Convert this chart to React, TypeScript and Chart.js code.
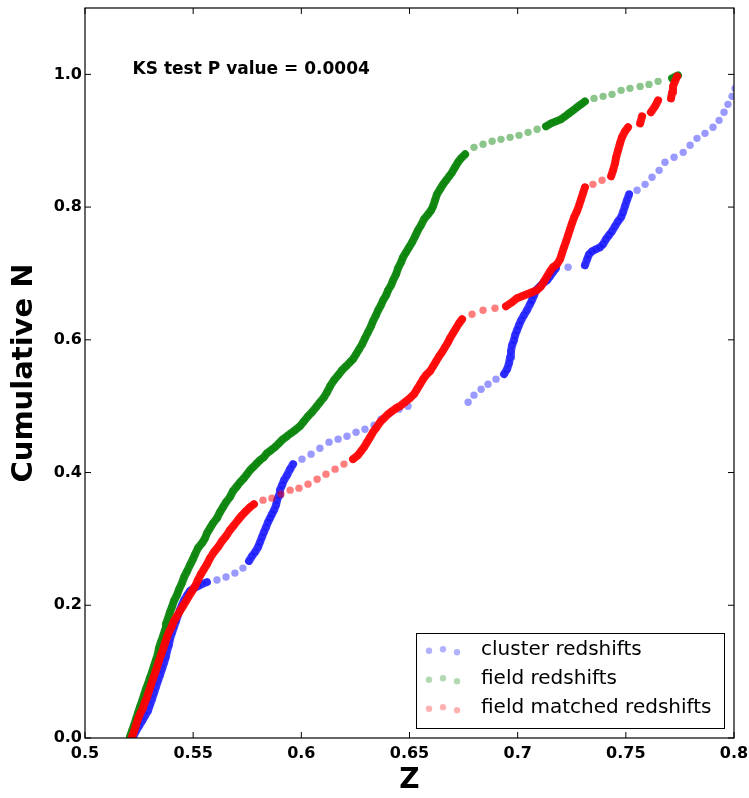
import React, { useEffect, useRef } from 'react';
import { Chart, registerables } from 'chart.js';

Chart.register(...registerables);

// ---- data ----
const seriesLabels = ['cluster redshifts', 'field redshifts', 'field matched redshifts'];

const clusterZ = [
  0.5222, 0.5236, 0.5250, 0.5264, 0.5277, 0.5291, 0.5300, 0.5310, 0.5319, 0.5328,
  0.5337, 0.5347, 0.5356, 0.5365, 0.5374, 0.5379, 0.5388, 0.5393, 0.5402, 0.5411,
  0.5421, 0.5430, 0.5439, 0.5448, 0.5458, 0.5472, 0.5485, 0.5504, 0.5522, 0.5541, 0.5564,
  0.5610, 0.5652, 0.5693, 0.5730,
  0.5758, 0.5772, 0.5786, 0.5800, 0.5809, 0.5818, 0.5827, 0.5837, 0.5846, 0.5855,
  0.5864, 0.5874, 0.5883, 0.5888, 0.5897, 0.5901, 0.5911, 0.5920, 0.5934, 0.5948, 0.5962,
  0.6003, 0.6045, 0.6086, 0.6128, 0.6170, 0.6211, 0.6253, 0.6294, 0.6336, 0.6368, 0.6410, 0.6452, 0.6493,
  0.6771, 0.6798, 0.6831, 0.6863, 0.6900, 0.6937,
  0.6951, 0.6960, 0.6965, 0.6969, 0.6974, 0.6983, 0.6988, 0.6997, 0.7006, 0.7016, 0.7029,
  0.7043, 0.7057, 0.7066, 0.7076, 0.7085, 0.7103, 0.7117, 0.7136, 0.7150, 0.7163, 0.7177,
  0.7233,
  0.7311, 0.7321, 0.7330, 0.7344, 0.7362, 0.7381, 0.7395, 0.7408, 0.7422, 0.7436, 0.7450,
  0.7464, 0.7478, 0.7487, 0.7496, 0.7505, 0.7515,
  0.7552, 0.7589, 0.7621, 0.7654, 0.7681, 0.7723, 0.7765, 0.7797, 0.7829, 0.7866, 0.7903,
  0.7931, 0.7954, 0.7972, 0.7991, 0.8005, 0.8023,
];
const clusterN = [
  0.0015, 0.0105, 0.0181, 0.0256, 0.0331, 0.0407, 0.0497, 0.0587, 0.0678, 0.0768,
  0.0858, 0.0949, 0.1039, 0.1130, 0.1220, 0.1310, 0.1401, 0.1491, 0.1581, 0.1672,
  0.1762, 0.1852, 0.1928, 0.2003, 0.2078, 0.2154, 0.2214, 0.2259, 0.2289, 0.2319, 0.2349,
  0.2380, 0.2425, 0.2485, 0.2560,
  0.2666, 0.2741, 0.2801, 0.2877, 0.2952, 0.3027, 0.3102, 0.3178, 0.3253, 0.3313,
  0.3373, 0.3434, 0.3509, 0.3584, 0.3660, 0.3735, 0.3810, 0.3886, 0.3961, 0.4051, 0.4127,
  0.4202, 0.4277, 0.4367, 0.4458, 0.4503, 0.4548, 0.4608, 0.4653, 0.4714, 0.4804, 0.4895, 0.4955, 0.5000,
  0.5060, 0.5166, 0.5256, 0.5331, 0.5407, 0.5482,
  0.5557, 0.5648, 0.5738, 0.5828, 0.5918, 0.5994, 0.6069, 0.6144, 0.6220, 0.6295, 0.6370,
  0.6446, 0.6536, 0.6596, 0.6672, 0.6747, 0.6807, 0.6852, 0.6898, 0.6958, 0.7018, 0.7078,
  0.7093,
  0.7123, 0.7214, 0.7289, 0.7334, 0.7364, 0.7394, 0.7440, 0.7515, 0.7575, 0.7635, 0.7711,
  0.7786, 0.7846, 0.7922, 0.8012, 0.8102, 0.8193,
  0.8253, 0.8343, 0.8449, 0.8554, 0.8675, 0.8750, 0.8825, 0.8931, 0.9036, 0.9111, 0.9202,
  0.9307, 0.9428, 0.9548, 0.9669, 0.9789, 0.9910,
];

const fieldZ = [
  0.5208, 0.5217, 0.5227, 0.5236, 0.5245, 0.5254, 0.5264, 0.5273, 0.5282, 0.5291, 0.5300, 0.5310,
  0.5319, 0.5328, 0.5337, 0.5342, 0.5351, 0.5361, 0.5370, 0.5374, 0.5384, 0.5393, 0.5402,
  0.5411, 0.5425, 0.5435, 0.5448, 0.5458, 0.5472, 0.5485, 0.5499, 0.5509, 0.5522, 0.5541, 0.5555, 0.5564,
  0.5578, 0.5592, 0.5610, 0.5624, 0.5638, 0.5652, 0.5670, 0.5684, 0.5703, 0.5717, 0.5735, 0.5749, 0.5763, 0.5777,
  0.5795, 0.5809, 0.5827, 0.5841, 0.5860, 0.5878, 0.5897, 0.5915, 0.5934, 0.5952, 0.5971, 0.5994,
  0.6012, 0.6031, 0.6049, 0.6068, 0.6086, 0.6105, 0.6119, 0.6133, 0.6151, 0.6170, 0.6188, 0.6207, 0.6225, 0.6239,
  0.6253, 0.6267, 0.6281, 0.6294, 0.6308, 0.6322, 0.6331, 0.6345, 0.6355, 0.6368, 0.6378, 0.6392, 0.6401, 0.6415, 0.6424,
  0.6438, 0.6447, 0.6461, 0.6470, 0.6484, 0.6498, 0.6512, 0.6526, 0.6539, 0.6553, 0.6567, 0.6586, 0.6600, 0.6609,
  0.6618, 0.6627, 0.6641, 0.6655, 0.6669, 0.6683, 0.6697, 0.6710, 0.6724, 0.6738, 0.6757,
  0.6798, 0.6840, 0.6882, 0.6923, 0.6965, 0.7006, 0.7048, 0.7090, 0.7131,
  0.7154, 0.7177, 0.7200, 0.7219, 0.7238, 0.7256, 0.7274, 0.7293, 0.7311,
  0.7353, 0.7395, 0.7436, 0.7478, 0.7519, 0.7566, 0.7607, 0.7649, 0.7714, 0.7741,
];
const fieldN = [
  0.0020, 0.0105, 0.0196, 0.0286, 0.0377, 0.0467, 0.0557, 0.0648, 0.0738, 0.0813, 0.0904, 0.0994,
  0.1084, 0.1175, 0.1265, 0.1355, 0.1446, 0.1536, 0.1627, 0.1717, 0.1807, 0.1898, 0.1973,
  0.2063, 0.2154, 0.2244, 0.2334, 0.2425, 0.2515, 0.2605, 0.2696, 0.2771, 0.2861, 0.2937, 0.3012, 0.3087,
  0.3163, 0.3238, 0.3313, 0.3404, 0.3479, 0.3554, 0.3630, 0.3720, 0.3795, 0.3855, 0.3916, 0.3976, 0.4036, 0.4081,
  0.4142, 0.4187, 0.4232, 0.4292, 0.4337, 0.4382, 0.4443, 0.4503, 0.4548, 0.4593, 0.4638, 0.4699,
  0.4774, 0.4849, 0.4910, 0.4985, 0.5060, 0.5135, 0.5211, 0.5301, 0.5392, 0.5467, 0.5542, 0.5602, 0.5663, 0.5708,
  0.5783, 0.5858, 0.5934, 0.6024, 0.6114, 0.6205, 0.6280, 0.6370, 0.6446, 0.6521, 0.6596, 0.6672, 0.6747, 0.6822, 0.6898,
  0.6988, 0.7078, 0.7169, 0.7244, 0.7319, 0.7395, 0.7470, 0.7560, 0.7651, 0.7726, 0.7816, 0.7892, 0.7952, 0.8012,
  0.8102, 0.8193, 0.8268, 0.8343, 0.8404, 0.8464, 0.8524, 0.8599, 0.8675, 0.8735, 0.8795,
  0.8900, 0.8946, 0.8991, 0.9021, 0.9051, 0.9081, 0.9126, 0.9172, 0.9217,
  0.9262, 0.9292, 0.9322, 0.9367, 0.9413, 0.9458, 0.9503, 0.9548, 0.9593,
  0.9638, 0.9669, 0.9699, 0.9759, 0.9789, 0.9819, 0.9849, 0.9895, 0.9940, 0.9985,
];

const matchedZ = [
  0.5217, 0.5227, 0.5236, 0.5245, 0.5254, 0.5268, 0.5277, 0.5287, 0.5296, 0.5305, 0.5314,
  0.5324, 0.5333, 0.5342, 0.5351, 0.5361, 0.5370, 0.5379, 0.5388, 0.5402, 0.5411, 0.5425,
  0.5439, 0.5453, 0.5467, 0.5481, 0.5495, 0.5509, 0.5522, 0.5536, 0.5550, 0.5564, 0.5578,
  0.5596, 0.5615, 0.5633, 0.5652, 0.5670, 0.5689, 0.5707, 0.5726, 0.5744, 0.5763, 0.5781,
  0.5823, 0.5864, 0.5906, 0.5948, 0.5989, 0.6031, 0.6073, 0.6114, 0.6156, 0.6197, 0.6239,
  0.6262, 0.6276, 0.6290, 0.6304, 0.6318, 0.6331, 0.6345, 0.6364, 0.6382, 0.6401, 0.6419,
  0.6438, 0.6456, 0.6479, 0.6502, 0.6521, 0.6535, 0.6549, 0.6563, 0.6576, 0.6595, 0.6609,
  0.6623, 0.6637, 0.6650, 0.6664, 0.6678, 0.6687, 0.6701, 0.6715, 0.6729, 0.6743,
  0.6789, 0.6840, 0.6895, 0.6946,
  0.6974, 0.6997, 0.7020, 0.7043, 0.7066, 0.7089, 0.7108, 0.7122, 0.7136, 0.7150, 0.7163,
  0.7182, 0.7196, 0.7205, 0.7214, 0.7224, 0.7233, 0.7242, 0.7251, 0.7261, 0.7274, 0.7284,
  0.7293, 0.7302, 0.7311,
  0.7348, 0.7390, 0.7432,
  0.7441, 0.7450, 0.7455, 0.7464, 0.7473, 0.7482, 0.7496, 0.7510,
  0.7566, 0.7575, 0.7616, 0.7635, 0.7649, 0.7709, 0.7714, 0.7718, 0.7727, 0.7737,
];
const matchedN = [
  0.0015, 0.0105, 0.0196, 0.0286, 0.0361, 0.0452, 0.0542, 0.0617, 0.0708, 0.0798, 0.0889,
  0.0979, 0.1069, 0.1160, 0.1250, 0.1340, 0.1431, 0.1521, 0.1596, 0.1687, 0.1762, 0.1837,
  0.1913, 0.1988, 0.2063, 0.2139, 0.2214, 0.2289, 0.2380, 0.2470, 0.2545, 0.2620, 0.2711,
  0.2801, 0.2877, 0.2967, 0.3042, 0.3133, 0.3208, 0.3283, 0.3358, 0.3419, 0.3479, 0.3524,
  0.3584, 0.3614, 0.3675, 0.3735, 0.3765, 0.3825, 0.3900, 0.3976, 0.4051, 0.4127, 0.4202,
  0.4262, 0.4322, 0.4382, 0.4458, 0.4533, 0.4608, 0.4669, 0.4759, 0.4819, 0.4880, 0.4925,
  0.4970, 0.5000, 0.5060, 0.5120, 0.5181, 0.5256, 0.5331, 0.5407, 0.5467, 0.5527, 0.5602,
  0.5678, 0.5753, 0.5813, 0.5888, 0.5964, 0.6024, 0.6099, 0.6175, 0.6250, 0.6310,
  0.6386, 0.6446, 0.6476, 0.6506,
  0.6566, 0.6627, 0.6657, 0.6687, 0.6717, 0.6747, 0.6807, 0.6883, 0.6958, 0.7033, 0.7093,
  0.7139, 0.7214, 0.7304, 0.7394, 0.7485, 0.7575, 0.7666, 0.7756, 0.7846, 0.7937, 0.8027,
  0.8117, 0.8208, 0.8298,
  0.8343, 0.8404, 0.8464,
  0.8554, 0.8660, 0.8750, 0.8855, 0.8961, 0.9051, 0.9141, 0.9202,
  0.9262, 0.9367, 0.9428, 0.9518, 0.9608, 0.9638, 0.9729, 0.9819, 0.9895, 0.9970,
];

const xTicks = [0.5, 0.55, 0.6, 0.65, 0.7, 0.75, 0.8];
const xTickLabels = ['0.5', '0.55', '0.6', '0.65', '0.7', '0.75', '0.8'];
const yTicks = [0.0, 0.2, 0.4, 0.6, 0.8, 1.0];
const yTickLabels = ['0.0', '0.2', '0.4', '0.6', '0.8', '1.0'];

const ksText = 'KS test P value = 0.0004';
const ksAnchorZ = 0.522;
const ksAnchorN = 1.0;

// ---- styles ----
const FONT = '"DejaVu Sans", "Bitstream Vera Sans", sans-serif';
const baseColors = ['0,0,255', '0,128,0', '255,0,0'];
const pointAlpha = [0.4, 0.45, 0.5];
const denseAlpha = [0.72, 0.88, 0.9];
const legendAlpha = 0.3;
const DENSE_PX = 8;

function toPoints(zs: number[], ns: number[]) {
  const n = Math.min(zs.length, ns.length);
  const out: { x: number; y: number }[] = [];
  for (let i = 0; i < n; i++) out.push({ x: zs[i], y: ns[i] });
  return out;
}

const overlayPlugin = {
  id: 'overlay',
  afterDraw(chart: any) {
    const { ctx, chartArea: a, scales } = chart;
    const xs = scales.x;
    const ys = scales.y;
    ctx.save();
    // frame
    ctx.strokeStyle = '#000';
    ctx.lineWidth = 1.2;
    ctx.strokeRect(a.left, a.top, a.right - a.left, a.bottom - a.top);
    // inward ticks on all sides
    ctx.lineWidth = 1;
    ctx.beginPath();
    xTicks.forEach((v) => {
      const px = xs.getPixelForValue(v);
      ctx.moveTo(px, a.bottom);
      ctx.lineTo(px, a.bottom - 6);
      ctx.moveTo(px, a.top);
      ctx.lineTo(px, a.top + 6);
    });
    yTicks.forEach((v) => {
      const py = ys.getPixelForValue(v);
      ctx.moveTo(a.left, py);
      ctx.lineTo(a.left + 6, py);
      ctx.moveTo(a.right, py);
      ctx.lineTo(a.right - 6, py);
    });
    ctx.stroke();

    // KS annotation
    ctx.fillStyle = '#000';
    ctx.font = `bold 17px ${FONT}`;
    ctx.textAlign = 'left';
    ctx.textBaseline = 'alphabetic';
    ctx.fillText(ksText, xs.getPixelForValue(ksAnchorZ), ys.getPixelForValue(ksAnchorN));

    // legend (lower right)
    const boxW = 308;
    const boxH = 95;
    const bx = a.right - 10 - boxW;
    const by = a.bottom - 10 - boxH;
    ctx.fillStyle = '#fff';
    ctx.fillRect(bx, by, boxW, boxH);
    ctx.strokeStyle = '#000';
    ctx.lineWidth = 1;
    ctx.strokeRect(bx + 0.5, by + 0.5, boxW, boxH);
    const dotDx = [13, 27, 41];
    const dotDy = [0.7, -0.7, 2.3];
    ctx.font = `normal 20px ${FONT}`;
    ctx.textBaseline = 'middle';
    seriesLabels.forEach((lab, i) => {
      const cy = by + 17 + i * 29;
      ctx.fillStyle = `rgba(${baseColors[i]},${legendAlpha})`;
      dotDx.forEach((dx, k) => {
        ctx.beginPath();
        ctx.arc(bx + dx, cy + dotDy[k], 3.2, 0, Math.PI * 2);
        ctx.fill();
      });
      ctx.fillStyle = '#000';
      ctx.fillText(lab, bx + 65, cy);
    });
    ctx.restore();
  },
};

export default function App() {
  const ref = useRef<HTMLCanvasElement | null>(null);

  useEffect(() => {
    document.body.style.margin = '0';
    const canvas = ref.current;
    if (!canvas) return;

    const seriesData = [
      toPoints(clusterZ, clusterN),
      toPoints(fieldZ, fieldN),
      toPoints(matchedZ, matchedN),
    ];
    const orders = [3, 2, 1];

    const datasets = seriesData.map((data, i) => ({
      label: seriesLabels[i],
      data,
      order: orders[i],
      showLine: true,
      tension: 0,
      clip: 0,
      borderWidth: 8,
      borderCapStyle: 'round',
      borderJoinStyle: 'round',
      borderColor: `rgba(${baseColors[i]},${denseAlpha[i]})`,
      segment: {
        borderColor: (c: any) =>
          Math.hypot(c.p1.x - c.p0.x, c.p1.y - c.p0.y) < DENSE_PX
            ? `rgba(${baseColors[i]},${denseAlpha[i]})`
            : 'rgba(0,0,0,0)',
      },
      pointRadius: 3.7,
      pointHoverRadius: 3.7,
      pointBorderWidth: 0,
      pointBackgroundColor: `rgba(${baseColors[i]},${pointAlpha[i]})`,
      pointBorderColor: 'rgba(0,0,0,0)',
    }));

    const chart = new Chart(canvas, {
      type: 'scatter',
      data: { datasets } as any,
      plugins: [overlayPlugin],
      options: {
        animation: false,
        responsive: false,
        maintainAspectRatio: false,
        events: [],
        layout: { padding: { top: 8, right: 15, left: 0, bottom: 0 } },
        plugins: {
          legend: { display: false },
          tooltip: { enabled: false },
        },
        scales: {
          x: {
            type: 'linear',
            min: 0.5,
            max: 0.8,
            grid: { display: false, drawTicks: false },
            border: { display: false },
            afterBuildTicks: (s: any) => {
              s.ticks = xTicks.map((v) => ({ value: v }));
            },
            afterFit: (s: any) => {
              s.height = 60;
              s.paddingLeft = 0;
              s.paddingRight = 0;
            },
            ticks: {
              autoSkip: false,
              maxRotation: 0,
              padding: 6,
              color: '#000',
              font: { family: FONT, size: 16, weight: 'bold' },
              callback: (_v: any, i: number) => xTickLabels[i],
            },
            title: {
              display: true,
              text: 'Z',
              color: '#000',
              font: { family: FONT, size: 28, weight: 'bold' },
              padding: { top: 0, bottom: 0 },
            },
          },
          y: {
            type: 'linear',
            min: 0,
            max: 1.1,
            grid: { display: false, drawTicks: false },
            border: { display: false },
            afterBuildTicks: (s: any) => {
              s.ticks = yTicks.map((v) => ({ value: v }));
            },
            afterFit: (s: any) => {
              s.width = 85;
              s.paddingTop = 0;
              s.paddingBottom = 0;
            },
            ticks: {
              padding: 3,
              color: '#000',
              font: { family: FONT, size: 16, weight: 'bold' },
              callback: (_v: any, i: number) => yTickLabels[i],
            },
            title: {
              display: true,
              text: 'Cumulative N',
              color: '#000',
              font: { family: FONT, size: 29, weight: 'bold' },
              padding: { top: 7, bottom: 0 },
            },
          },
        },
      } as any,
    });

    return () => {
      chart.destroy();
    };
  }, []);

  return (
    <canvas
      ref={ref}
      width={749}
      height={798}
      style={{ display: 'block', width: 749, height: 798 }}
    />
  );
}
